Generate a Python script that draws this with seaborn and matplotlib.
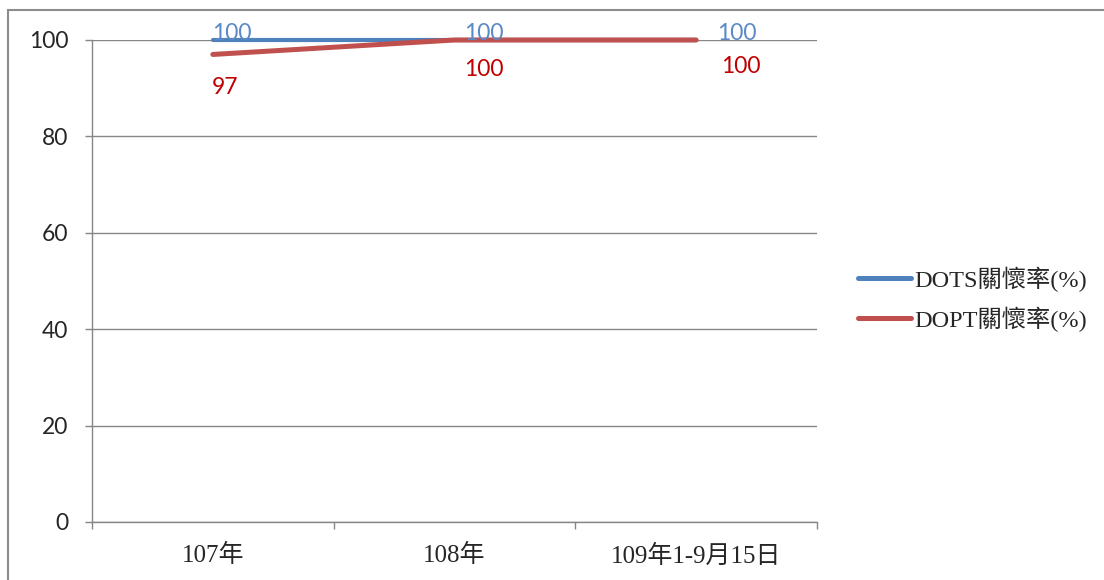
import pandas as pd
import matplotlib
matplotlib.use("Agg")
import matplotlib.pyplot as plt
from matplotlib.patches import Rectangle
import seaborn as sns

# 資料
categories = ["107年", "108年", "109年1-9月15日"]
dots_rate = [100, 100, 100]
dopt_rate = [97, 100, 100]
series_names = ["DOTS關懷率(%)", "DOPT關懷率(%)"]

BLUE = "#4F81BD"
RED = "#C0504D"
SANS = ["Lato", "DejaVu Sans"]
SERIF = ["Liberation Serif", "Noto Sans CJK TC"]

sns.set_style("white")
plt.rcParams["font.family"] = SANS

df = pd.DataFrame({
    "類別": categories * 2,
    "x": list(range(len(categories))) * 2,
    "值": dots_rate + dopt_rate,
    "系列": [series_names[0]] * 3 + [series_names[1]] * 3,
})

fig = plt.figure(figsize=(11.04, 5.8), dpi=100)
ax = fig.add_axes([92 / 1104, 1 - 522 / 580, (817 - 92) / 1104, (522 - 40) / 580])

sns.lineplot(data=df, x="x", y="值", hue="系列", hue_order=series_names,
             palette=[BLUE, RED], ax=ax, legend=False)
lines = ax.get_lines()
lines[0].set_linewidth(3.0)
lines[1].set_linewidth(3.6)
for ln in lines:
    ln.set_solid_capstyle("round")
    ln.set_clip_on(False)
    ln.set_zorder(3)

# 軸設定
ax.set_xlim(-0.5, 2.5)
ax.set_ylim(0, 100)
ax.set_yticks(range(0, 101, 20))
ax.set_xticks(range(len(categories)))
ax.set_xticklabels(categories, family=SERIF, fontsize=18)
ax.set_xticks([-0.5, 0.5, 1.5, 2.5], minor=True)
ax.tick_params(axis="x", which="major", bottom=True, length=0, pad=16)
ax.tick_params(axis="x", which="minor", bottom=True, length=5, color="#868686", width=1)
ax.tick_params(axis="y", left=True, length=5, color="#868686", width=1,
               labelsize=16.5, pad=12)
ax.set_xlabel("")
ax.set_ylabel("")
ax.yaxis.grid(True, color="#868686", linewidth=1)
ax.set_axisbelow(True)
for side in ["top", "right"]:
    ax.spines[side].set_visible(False)
for side in ["left", "bottom"]:
    ax.spines[side].set_color("#868686")
    ax.spines[side].set_linewidth(1)
    ax.spines[side].set_zorder(0)

# 資料標籤
blue_off = [(14, 4.5), (21, 4.5), (29, 4.5)]
red_off = [(9, -23.5), (21, -21), (32, -19)]
for i, v in enumerate(dots_rate):
    ax.annotate(str(v), (i, v), xytext=blue_off[i], textcoords="offset points",
                ha="center", va="center", color="#5A8AC6", fontsize=16.5,
                annotation_clip=False, zorder=5)
for i, v in enumerate(dopt_rate):
    ax.annotate(str(v), (i, v), xytext=red_off[i], textcoords="offset points",
                ha="center", va="center", color="#C00000", fontsize=16.5,
                annotation_clip=False, zorder=5)

# 圖例
handles = [plt.Line2D([], [], color=BLUE, lw=3.6, solid_capstyle="round"),
           plt.Line2D([], [], color=RED, lw=3.6, solid_capstyle="round")]
fig.legend(handles, series_names, loc="center left",
           bbox_to_anchor=(858 / 1104, 1 - 299 / 580), frameon=False,
           prop={"family": SERIF, "size": 17.5}, handlelength=2.2,
           handletextpad=0.1, labelspacing=0.6, borderpad=0, borderaxespad=0)

# 外框
fig.patches.append(Rectangle((8 / 1104, -0.2), 1.2, 1.2 - 10 / 580,
                             transform=fig.transFigure, fill=False,
                             edgecolor="#8C8C8C", linewidth=1.5))

fig.savefig("out.png", dpi=100)
